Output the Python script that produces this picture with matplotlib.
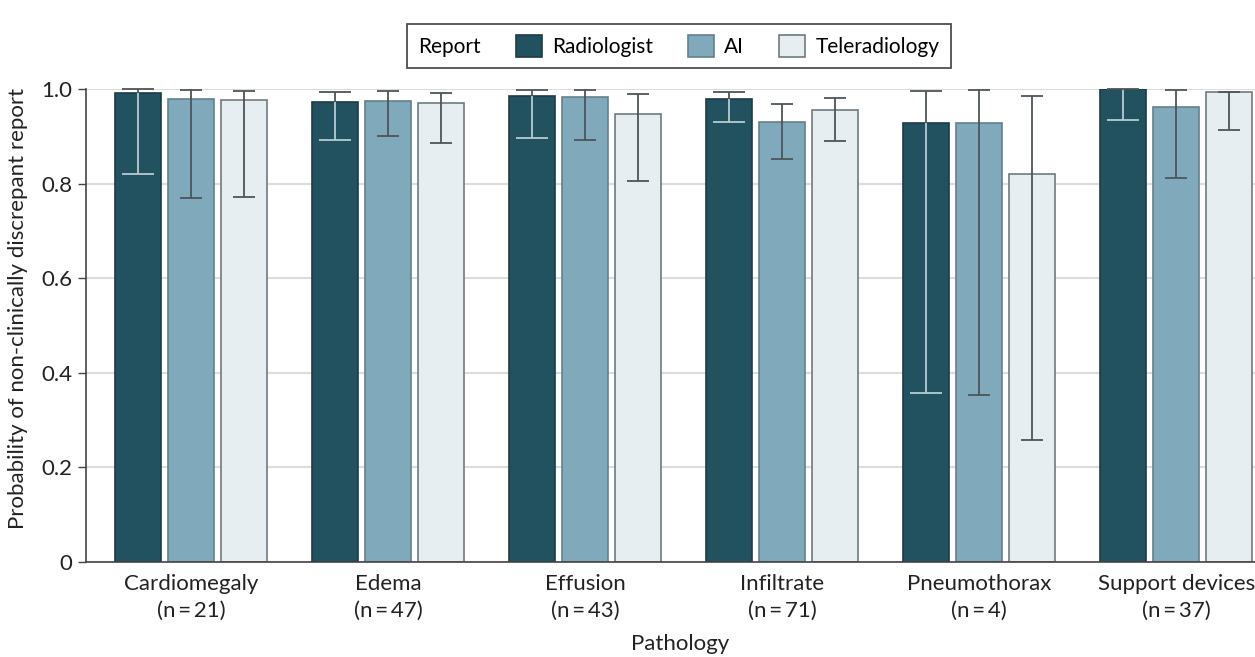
import numpy as np
import matplotlib
matplotlib.use('Agg')
import matplotlib.pyplot as plt
from matplotlib.patches import Patch

plt.rcParams['font.family'] = ['Lato', 'DejaVu Sans']

# Pathologies and sample sizes
pathologies = ['Cardiomegaly', 'Edema', 'Effusion', 'Infiltrate', 'Pneumothorax', 'Support devices']
n_cases = [21, 47, 43, 71, 4, 37]

# Probability estimates with 95% interval (lower, upper) for each report source
radiologist = [0.992, 0.973, 0.985, 0.979, 0.929, 0.999]
radiologist_lo = [0.820, 0.893, 0.896, 0.930, 0.357, 0.934]
radiologist_hi = [1.000, 0.993, 0.998, 0.993, 0.996, 1.000]

ai = [0.979, 0.975, 0.983, 0.930, 0.929, 0.961]
ai_lo = [0.770, 0.900, 0.893, 0.851, 0.353, 0.811]
ai_hi = [0.998, 0.995, 0.998, 0.968, 0.998, 0.998]

tele = [0.977, 0.970, 0.948, 0.955, 0.820, 0.993]
tele_lo = [0.772, 0.885, 0.805, 0.890, 0.257, 0.913]
tele_hi = [0.996, 0.992, 0.989, 0.981, 0.985, 0.993]

series = [
    ('Radiologist', radiologist, radiologist_lo, radiologist_hi, '#22525f', '#1c3c46'),
    ('AI', ai, ai_lo, ai_hi, '#80aabb', '#62808b'),
    ('Teleradiology', tele, tele_lo, tele_hi, '#e7eef2', '#6f7a7e'),
]

fig = plt.figure(figsize=(12.55, 6.57), dpi=100)
ax = fig.add_axes([0.0685, 0.1446, 0.9315, 0.7199])

x = np.arange(len(pathologies))
width = 0.234
pitch = 0.269
dark_err = '#4d5559'
light_err = '#b7cbd1'

for i, (name, vals, lo, hi, color, edge) in enumerate(series):
    vals = np.array(vals)
    lo = np.array(lo)
    hi = np.array(hi)
    xpos = x + (i - 1) * pitch
    ax.bar(xpos, vals, width, color=color, edgecolor=edge, linewidth=1.2, zorder=2, label=name)
    if name == 'Radiologist':
        # light whisker inside the dark bar, dark part above it
        ax.vlines(xpos, lo, vals, color=light_err, lw=1.3, zorder=3)
        ax.hlines(lo, xpos - 0.08, xpos + 0.08, color=light_err, lw=1.3, zorder=3)
        ax.vlines(xpos, vals, hi, color=dark_err, lw=1.3, zorder=3, clip_on=False)
        ax.hlines(hi, xpos - 0.08, xpos + 0.08, color=dark_err, lw=1.3, zorder=3, clip_on=False)
    else:
        ax.errorbar(xpos, vals, yerr=[vals - lo, hi - vals], fmt='none', ecolor=dark_err,
                    elinewidth=1.3, capsize=8, capthick=1.3, zorder=3, clip_on=False)

ax.set_xlim(-0.533, 5.40)
ax.set_ylim(0, 1.0)
ax.set_yticks([0, 0.2, 0.4, 0.6, 0.8, 1.0])
ax.set_yticklabels(['0', '0.2', '0.4', '0.6', '0.8', '1.0'])
ax.set_xticks(x)
ax.set_xticklabels([f'{p}\n(n\u2009=\u2009{n})' for p, n in zip(pathologies, n_cases)], linespacing=1.4)
ax.tick_params(axis='x', length=0, pad=9, labelsize=16, colors='#222222')
ax.tick_params(axis='y', length=6, width=1, pad=4, labelsize=16, colors='#444444', labelcolor='#222222')
ax.yaxis.grid(True, color='#dcdcdc', lw=1.5, zorder=0)
ax.set_axisbelow(True)
for s in ['top', 'right']:
    ax.spines[s].set_visible(False)
for s in ['left', 'bottom']:
    ax.spines[s].set_color('#444444')
    ax.spines[s].set_linewidth(1.2)

fig.text(0.0145, 0.530, 'Probability of non-clinically discrepant report', rotation=90,
         ha='center', va='center', fontsize=16, color='#222222')
fig.text(0.542, 0.004, 'Pathology', ha='center', va='bottom', fontsize=16, color='#222222')

# legend with the "Report" title set inline before the entries
handles = [Patch(facecolor=s[4], edgecolor=s[5], linewidth=1.2) for s in series]
leg = fig.legend(handles, [s[0] for s in series], title='Report', ncol=3, loc='center',
                 bbox_to_anchor=(0.541, 0.930), fontsize=15, title_fontsize=15,
                 frameon=True, fancybox=False, edgecolor='#222222', handlelength=1.25,
                 handleheight=1.25, handletextpad=0.5, columnspacing=1.4, borderpad=0.55)
leg.get_frame().set_linewidth(1.3)
box = leg._legend_box
title_box = box.get_children()[0]
entries = box.get_children()[1]
box._children = [entries]
entries._children = [title_box] + entries.get_children()
entries.sep = 25

fig.savefig('out.png', dpi=100)
